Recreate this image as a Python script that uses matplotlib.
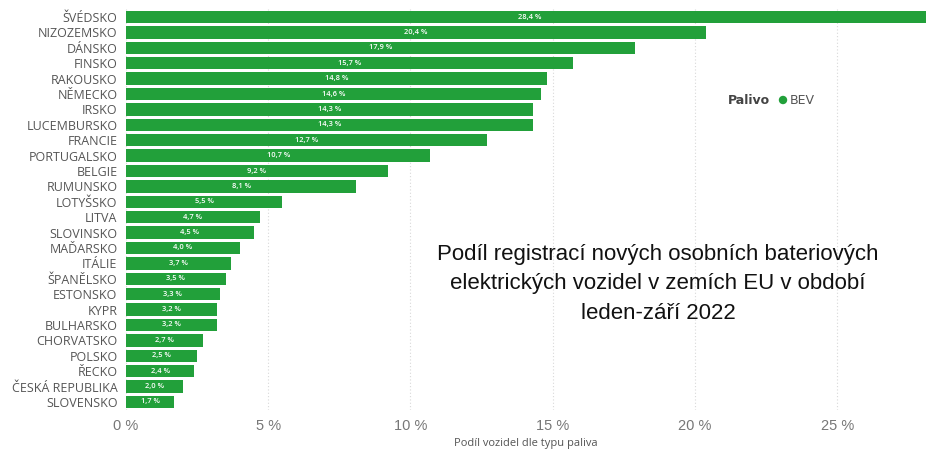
import matplotlib
matplotlib.use("Agg")
import matplotlib.pyplot as plt

countries = ["ŠVÉDSKO", "NIZOZEMSKO", "DÁNSKO", "FINSKO", "RAKOUSKO", "NĚMECKO", "IRSKO",
             "LUCEMBURSKO", "FRANCIE", "PORTUGALSKO", "BELGIE", "RUMUNSKO", "LOTYŠSKO",
             "LITVA", "SLOVINSKO", "MAĎARSKO", "ITÁLIE", "ŠPANĚLSKO", "ESTONSKO", "KYPR",
             "BULHARSKO", "CHORVATSKO", "POLSKO", "ŘECKO", "ČESKÁ REPUBLIKA", "SLOVENSKO"]
bev_share = [28.4, 20.4, 17.9, 15.7, 14.8, 14.6, 14.3, 14.3, 12.7, 10.7, 9.2, 8.1, 5.5,
             4.7, 4.5, 4.0, 3.7, 3.5, 3.3, 3.2, 3.2, 2.7, 2.5, 2.4, 2.0, 1.7]
xticks = [0, 5, 10, 15, 20, 25]
xtick_labels = ["0 %", "5 %", "10 %", "15 %", "20 %", "25 %"]

title = "Podíl registrací nových osobních bateriových\nelektrických vozidel v zemích EU v období\nleden-září 2022"

green = "#22a03a"
fig = plt.figure(figsize=(9.26, 4.5), dpi=100)
ax = fig.add_axes([0.136, 0.0896, 0.864, 0.8897])

y = list(range(len(countries)))
ax.barh(y, bev_share, height=0.8, color=green, zorder=2)
xmax = 28.12
ax.set_xlim(0, xmax)
ax.set_ylim(len(countries) - 0.5, -0.5)

for yi, v in zip(y, bev_share):
    ax.text(v / 2, yi, f"{v:.1f} %".replace(".", ","), ha="center", va="center",
            color="white", fontsize=5.4, fontweight="semibold", zorder=3, family="Open Sans")

ax.set_yticks(y)
ax.set_yticklabels(countries, fontsize=9, color="#555555", family="Open Sans")
ax.set_xticks(xticks)
ax.set_xticklabels(xtick_labels, fontsize=10.5, color="#777777", family="Liberation Sans")
ax.tick_params(axis="y", length=0, pad=6)
ax.tick_params(axis="x", length=0, pad=7)
ax.set_xlabel("Podíl vozidel dle typu paliva", fontsize=8, color="#555555", labelpad=3,
              family="Open Sans")
for s in ax.spines.values():
    s.set_visible(False)
ax.grid(axis="x", color="#d8d8d8", linestyle=(0, (1, 2)), linewidth=0.8, zorder=0)

# legend
fig.text(728 / 926, 1 - 100 / 450, "Palivo", fontsize=9, fontweight="bold", color="#444444",
         va="center", ha="left")
fig.text(790 / 926, 1 - 100 / 450, "BEV", fontsize=9, color="#555555", va="center", ha="left")
fig.patches.append(matplotlib.patches.Ellipse((783 / 926, 1 - 100 / 450), 7 / 926, 7 / 450,
                                              transform=fig.transFigure, color=green, figure=fig))

fig.text(658 / 926, 1 - 284 / 450, title, fontsize=16, ha="center", va="center",
         color="#111111", family="Liberation Sans", linespacing=1.55)

fig.savefig("out.png", dpi=100)
